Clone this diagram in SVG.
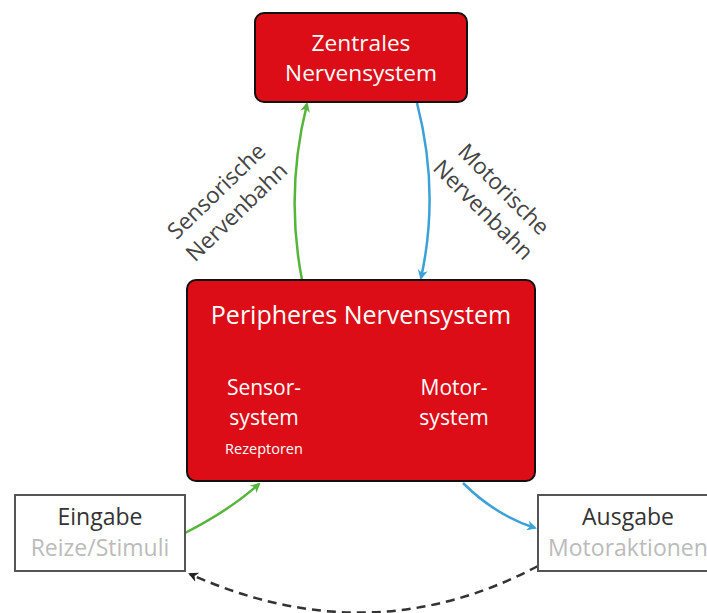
<svg xmlns="http://www.w3.org/2000/svg" width="707" height="613" viewBox="0 0 707 613">
<defs>
<style>
.red{fill:#dc0d17;stroke:#111;stroke-width:2}
.io{fill:#fff;stroke:#555;stroke-width:2}
text{font-family:"Open Sans","Liberation Sans",sans-serif;text-anchor:middle}
.w{fill:#fff}
.d{fill:#333}
.g{fill:#bbb}
.lbl{fill:#444;font-size:22.5px}
.c{fill:none;stroke-width:2.5}
</style>
<marker id="ag" viewBox="0 0 10 10" refX="8" refY="5" markerWidth="4" markerHeight="4" orient="auto" markerUnits="strokeWidth"><path d="M0,0 L10,5 L0,10 L3,5 z" fill="#55b53a"/></marker>
<marker id="ab" viewBox="0 0 10 10" refX="8" refY="5" markerWidth="4" markerHeight="4" orient="auto" markerUnits="strokeWidth"><path d="M0,0 L10,5 L0,10 L3,5 z" fill="#3ba1d6"/></marker>
<marker id="ak" viewBox="0 0 10 10" refX="8" refY="5" markerWidth="4" markerHeight="4" orient="auto" markerUnits="strokeWidth"><path d="M0,0 L10,5 L0,10 L3,5 z" fill="#222"/></marker>
</defs>
<rect width="707" height="613" fill="#fff"/>
<g id="connectors">
<path class="c" d="M302,280 Q285,192 307,104" stroke="#55b53a" marker-end="url(#ag)"/>
<path class="c" d="M417,103 Q440,192 421,278" stroke="#3ba1d6" marker-end="url(#ab)"/>
<path class="c" d="M185,533 Q230,510 259,484" stroke="#55b53a" marker-end="url(#ag)"/>
<path class="c" d="M463,483 Q495,515 535,528" stroke="#3ba1d6" marker-end="url(#ab)"/>
<path class="c" d="M538,566 Q370,655 190,574" stroke="#333" stroke-dasharray="9,6" marker-end="url(#ak)"/>
<g transform="translate(226,201) rotate(-44)"><text class="lbl" y="-6">Sensorische</text><text class="lbl" y="23">Nervenbahn</text></g>
<g transform="translate(494,199) rotate(45)"><text class="lbl" y="-6">Motorische</text><text class="lbl" y="23">Nervenbahn</text></g>
</g>
<g id="zns">
<rect class="red" x="255" y="13" width="212" height="89" rx="9"/>
<text class="w" x="361" y="51" font-size="22.7">Zentrales</text>
<text class="w" x="361" y="81" font-size="22.7">Nervensystem</text>
</g>
<g id="pns">
<rect class="red" x="187" y="280" width="348" height="201" rx="9"/>
<text class="w" x="361" y="324" font-size="25">Peripheres Nervensystem</text>
<text class="w" x="264" y="395" font-size="21">Sensor-</text>
<text class="w" x="264" y="425" font-size="21">system</text>
<text class="w" x="264" y="454" font-size="14.5">Rezeptoren</text>
<text class="w" x="454" y="395" font-size="21">Motor-</text>
<text class="w" x="454" y="425" font-size="21">system</text>
</g>
<g id="eingabe">
<rect class="io" x="15" y="495" width="170" height="76"/>
<text class="d" x="100" y="525" font-size="23">Eingabe</text>
<text class="g" x="100" y="556" font-size="23">Reize/Stimuli</text>
</g>
<g id="ausgabe">
<rect class="io" x="538" y="495" width="180" height="76"/>
<text class="d" x="628" y="525" font-size="23">Ausgabe</text>
<text class="g" x="628" y="556" font-size="23">Motoraktionen</text>
</g>
</svg>
